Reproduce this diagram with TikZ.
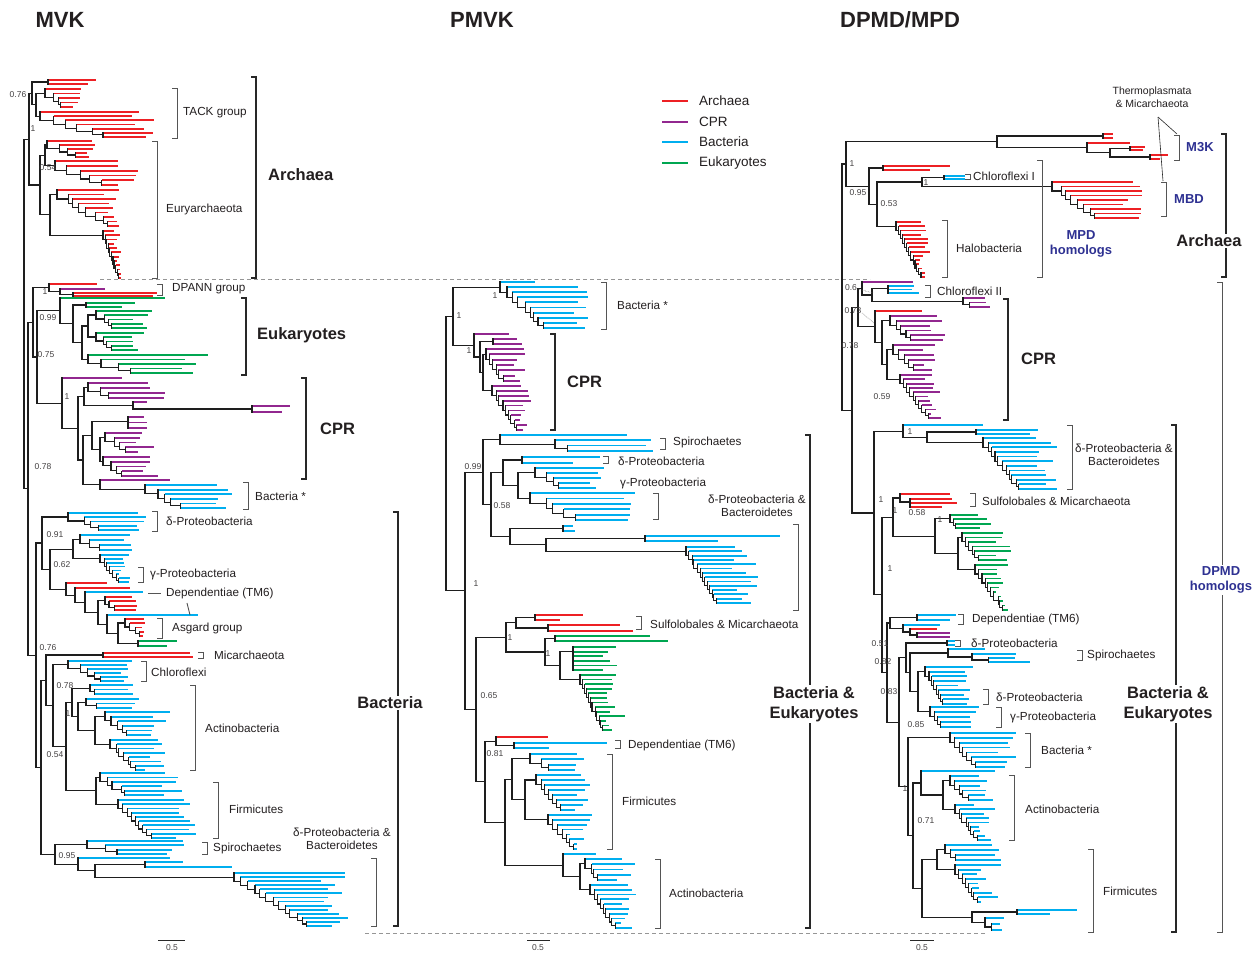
\documentclass[tikz,border=0pt]{standalone}
\usepackage{fontspec}
\setmainfont{Liberation Sans}
\definecolor{ar}{RGB}{237,32,36}
\definecolor{cp}{RGB}{146,39,143}
\definecolor{bl}{RGB}{0,174,239}
\definecolor{gn}{RGB}{0,166,81}
\definecolor{ink}{RGB}{35,31,32}
\definecolor{nv}{RGB}{46,49,146}
\definecolor{brc}{RGB}{30,30,30}
\definecolor{bkc}{RGB}{85,85,85}
\definecolor{bkd}{RGB}{40,40,40}
\definecolor{dsh}{RGB}{150,150,150}
\newcommand\ptset[3]{\expandafter\xdef\csname tx@#1\endcsname{#2}\expandafter\xdef\csname ty@#1\endcsname{#3}}
\newcommand\tX[1]{\csname tx@#1\endcsname}
\newcommand\tY[1]{\csname ty@#1\endcsname}
% comb: name, x, ytop, ybot, n, color, step, tip, jitter
\newcommand\tcomb[9]{%
  \pgfmathsetmacro\cdy{(#4-#3)/(#5-1)}%
  \xdef\catt{#4}\xdef\cprevx{#2}%
  \pgfmathtruncatemacro\cnm{#5-1}%
  \edef\clist{1,...,\cnm}%
  \foreach \ckk in \clist {%
    \pgfmathtruncatemacro\ck{\cnm+1-\ckk}%
    \pgfmathsetmacro\cyk{#3+(\ck-1)*\cdy}%
    \ifnum\ck=1 \edef\cxk{#2}\else\pgfmathsetmacro\cxk{#2+(\ck-1)*#7+0.7*#7*rnd}\fi
    \pgfmathsetmacro\cL{max(3,#8-\cxk+#9*(rnd-0.5))}%
    \draw[lf,#6] (\cxk,\cyk) -- ++(\cL,0);
    \ifnum\ck=\cnm
      \pgfmathsetmacro\cL{max(3,#8-\cxk+#9*(rnd-0.5))}%
      \draw[lf,#6] (\cxk,#4) -- ++(\cL,0);
    \else
      \draw[br] (\cxk,\catt) -- (\cprevx,\catt);
    \fi
    \draw[br] (\cxk,\cyk) -- (\cxk,\catt);
    \pgfmathsetmacro\cna{(\cyk+\catt)/2}%
    \xdef\catt{\cna}\xdef\cprevx{\cxk}%
  }%
  \ptset{#1}{#2}{\catt}%
}
\newcommand\tjoin[4]{%
  \draw[br] (\tX{#3},\tY{#3}) -- (#2,\tY{#3}) -- (#2,\tY{#4}) -- (\tX{#4},\tY{#4});
  \pgfmathsetmacro\cjy{(\tY{#3}+\tY{#4})/2}%
  \ptset{#1}{#2}{\cjy}%
}
\newcommand\tcherry[7]{%
  \draw[lf,#7] (#2,#3) -- (#5,#3);
  \draw[lf,#7] (#2,#4) -- (#6,#4);
  \draw[br] (#2,#3) -- (#2,#4);
  \pgfmathsetmacro\cjy{(#3+#4)/2}\ptset{#1}{#2}{\cjy}%
}
\newcommand\tleaf[5]{\draw[lf,#5] (#2,#4) -- (#3,#4); \ptset{#1}{#2}{#4}}
\newcommand\tbrk[4][bk]{\draw[#1] (#2-5,#3) -- (#2,#3) -- (#2,#4) -- (#2-5,#4);}
\tikzset{
  br/.style={draw=brc, line width=1.1pt, line cap=rect},
  lf/.style={line width=1.8pt},
  bk/.style={draw=bkc, line width=0.9pt},
  bkb/.style={draw=bkd, line width=1.3pt},
  lab/.style={font=\fontsize{11.7}{13.5}\selectfont, text=ink, inner sep=0pt},
  num/.style={font=\fontsize{8.5}{9}\selectfont, text=ink!85, inner sep=0pt},
  big/.style={font=\fontsize{16.5}{20}\selectfont\bfseries, text=ink, inner sep=1pt, align=center},
  nvl/.style={font=\fontsize{13}{15.5}\selectfont\bfseries, text=nv, align=center, inner sep=1pt},
  ttl/.style={font=\fontsize{22}{26}\selectfont\bfseries, text=ink},
  leg/.style={font=\fontsize{13.5}{16}\selectfont, text=ink, inner sep=0pt, anchor=west},
  dsl/.style={draw=dsh, line width=0.9pt, dash pattern=on 4pt off 3pt},
}
\pgfmathsetseed{7}
\begin{document}
\begin{tikzpicture}[x=1pt,y=-1pt]
\fill[white] (0,0) rectangle (1254,954);
\useasboundingbox (0,0) rectangle (1254,954);
% titles
\node[ttl] (T1) at (60,20) {MVK};
\node[ttl] (T2) at (482,20) {PMVK};
\node[ttl] (T3) at (900,20) {DPMD/MPD};
% legend
\draw[lf,ar] (662,101) -- (688,101);
\draw[lf,cp] (662,122) -- (688,122);
\draw[lf,bl] (662,142) -- (688,142);
\draw[lf,gn] (662,163) -- (688,163);
\node[leg] (G1) at (699,101) {Archaea};
\node[leg] (G2) at (699,122) {CPR};
\node[leg] (G3) at (699,142) {Bacteria};
\node[leg] (G4) at (699,163) {Eukaryotes};
% dashed separators
\draw[dsl] (100,279) -- (870,279);
\draw[dsl] (365,933) -- (987,933);
% ================= MVK =================
\tcomb{t1}{48}{80}{84}{2}{ar}{0}{92}{12}
\tcomb{t2}{45}{89}{107}{5}{ar}{5}{78}{14}
\tcomb{t3}{40}{112}{137}{7}{ar}{12}{150}{40}
\tjoin{t23}{36}{t2}{t3}
\tjoin{tack}{32}{t1}{t23}
\tcomb{e1}{47}{141}{157}{5}{ar}{8}{95}{25}
\tcomb{e2}{55}{161}{185}{6}{ar}{10}{125}{30}
\tcomb{e3}{57}{190}{226}{9}{ar}{7}{110}{20}
\tcomb{e4}{103}{231}{278}{12}{ar}{1.5}{118}{8}
\tjoin{e12}{45}{e1}{e2}
\tjoin{e34}{50}{e3}{e4}
\tjoin{eury}{40}{e12}{e34}
\tjoin{arch}{29}{tack}{eury}
\tleaf{dp1}{49}{97}{284}{ar}
\tleaf{dp2}{60}{105}{289}{cp}
\tcherry{dp3}{73}{293}{296}{157}{153}{ar}
\tjoin{dp23}{60}{dp2}{dp3}
\tjoin{dpann}{49}{dp1}{dp23}
\tleaf{k1}{60}{165}{298}{gn}
\tcherry{k2}{86}{303}{307}{135}{122}{gn}
\tcomb{k3a}{96}{311}{328}{5}{gn}{5}{142}{20}
\tcomb{k3b}{96}{333}{350}{5}{gn}{5}{140}{20}
\tjoin{k3}{88}{k3a}{k3b}
\tcomb{k4}{88}{355}{373}{5}{gn}{12}{195}{40}
\tjoin{k34}{82}{k3}{k4}
\tjoin{k234}{73}{k2}{k34}
\tjoin{euk}{60}{k1}{k234}
\tleaf{c1}{62}{122}{378}{cp}
\tcomb{c2}{88}{383}{398}{4}{cp}{10}{160}{25}
\tleaf{c3a}{133}{147}{402}{cp}
\tcherry{c3b}{252}{406}{412}{290}{282}{cp}
\tjoin{c3}{133}{c3a}{c3b}
\tjoin{c23}{84}{c2}{c3}
\tcomb{c4}{128}{417}{428}{3}{cp}{0}{148}{8}
\tcomb{c5a}{105}{433}{452}{5}{cp}{6}{145}{20}
\tcomb{c5b}{103}{457}{476}{5}{cp}{6}{150}{20}
\tjoin{c5}{100}{c5a}{c5b}
\tjoin{c45}{92}{c4}{c5}
\tleaf{bs1}{100}{170}{480}{cp}
\tcomb{bs2}{145}{485}{508}{6}{bl}{8}{225}{20}
\tjoin{bst}{100}{bs1}{bs2}
\tjoin{cl}{83}{c45}{bst}
\tjoin{c2345}{78}{c23}{cl}
\tjoin{cpr}{62}{c1}{c2345}
\tjoin{ekc}{37}{euk}{cpr}
\tjoin{up}{33}{dpann}{ekc}
\tcomb{p1}{68}{513}{530}{5}{bl}{10}{140}{15}
\tcomb{p2a}{80}{535}{550}{4}{bl}{8}{130}{15}
\tcomb{p2b}{100}{555}{582}{8}{bl}{3}{126}{14}
\tjoin{p2}{73}{p2a}{p2b}
\tleaf{g1}{66}{107}{583}{ar}
\tleaf{g2}{75}{130}{588}{ar}
\tleaf{g3}{85}{143}{592}{bl}
\tcomb{g4}{105}{597}{610}{4}{ar}{4}{135}{8}
\tleaf{g5}{107}{198}{615}{bl}
\tcomb{g6}{125}{619}{636}{5}{ar}{4}{145}{8}
\tcherry{g7}{138}{641}{646}{177}{167}{gn}
\tjoin{g67}{118}{g6}{g7}
\tjoin{g567}{107}{g5}{g67}
\tjoin{g4567}{98}{g4}{g567}
\tjoin{g3x}{85}{g3}{g4567}
\tjoin{g2x}{75}{g2}{g3x}
\tjoin{g1x}{66}{g1}{g2x}
\tjoin{q1}{50}{p2}{g1x}
\tjoin{q2}{42}{p1}{q1}
\tcherry{mi}{103}{653}{657}{190}{193}{ar}
\tcomb{ch}{68}{661}{681}{6}{bl}{8}{125}{15}
\tcomb{a1}{90}{685}{694}{3}{bl}{4}{130}{10}
\tcomb{a2}{86}{699}{708}{3}{bl}{8}{135}{10}
\tcomb{a3a}{105}{712}{735}{6}{bl}{5}{160}{20}
\tcomb{a3b}{110}{740}{770}{8}{bl}{4}{155}{20}
\tjoin{a3}{95}{a3a}{a3b}
\tjoin{a23}{78}{a2}{a3}
\tjoin{act}{72}{a1}{a23}
\tcomb{fa}{100}{773}{795}{6}{bl}{6}{170}{25}
\tcomb{fb}{118}{800}{838}{10}{bl}{4}{185}{25}
\tjoin{fi}{96}{fa}{fb}
\tjoin{af}{66}{act}{fi}
\tjoin{caf}{53}{ch}{af}
\tjoin{mcaf}{46}{mi}{caf}
\tcomb{sp}{87}{841}{854}{4}{bl}{12}{175}{20}
\tleaf{s1}{78}{170}{858}{bl}
\tcherry{s2}{145}{862}{867}{183}{232}{bl}
\tcomb{s3}{234}{873}{926}{14}{bl}{6}{335}{30}
\tjoin{s23}{95}{s2}{s3}
\tjoin{s123}{78}{s1}{s23}
\tjoin{spd}{55}{sp}{s123}
\tjoin{b2}{41}{mcaf}{spd}
\tjoin{bac}{36}{q2}{b2}
\tjoin{r1}{28}{up}{bac}
\tjoin{root}{24}{arch}{r1}
% MVK brackets
\tbrk[bkb]{256}{77}{278}
\tbrk{177}{88}{138}
\tbrk{157}{141}{278}
\tbrk{162}{284}{295}
\tbrk[bkb]{246}{298}{375}
\tbrk[bkb]{306}{378}{479}
\tbrk{248}{482}{509}
\tbrk{157}{511}{531}
\tbrk{143}{567}{582}
\tbrk{162}{618}{638}
\tbrk{203}{652}{658}
\tbrk{146}{661}{681}
\tbrk{195}{685}{770}
\tbrk{218}{782}{838}
\tbrk{207}{842}{854}
\tbrk{376}{858}{926}
\tbrk[bkb]{398}{512}{926}
\draw[bk] (148,593) -- (161,593);
\draw[bk] (187,603) -- (190,615);
% MVK labels
\node[num] (n1) at (18,95) {0.76};
\node[num] (n2) at (33,129) {1};
\node[num] (n3) at (48,168) {0.54};
\node[num] (n4) at (45,292) {1};
\node[num] (n5) at (48,318) {0.99};
\node[num] (n6) at (46,355) {0.75};
\node[num] (n7) at (67,397) {1};
\node[num] (n8) at (43,467) {0.78};
\node[num] (n9) at (55,535) {0.91};
\node[num] (n10) at (62,565) {0.62};
\node[num] (n11) at (48,648) {0.76};
\node[num] (n12) at (65,686) {0.78};
\node[num] (n13) at (68,714) {1};
\node[num] (n14) at (55,755) {0.54};
\node[num] (n15) at (67,856) {0.95};
\node[lab,anchor=west] (m1) at (183,113) {TACK group};
\node[lab,anchor=west] (m2) at (166,209) {Euryarchaeota};
\node[big,anchor=west] (m3) at (267,175) {Archaea};
\node[lab,anchor=west] (m4) at (172,289) {DPANN group};
\node[big,anchor=west] (m5) at (256,335) {Eukaryotes};
\node[big,anchor=west] (m6) at (319,429) {CPR};
\node[lab,anchor=west] (m7) at (255,496) {Bacteria *};
\node[lab,anchor=west] (m8) at (166,521) {δ-Proteobacteria};
\node[lab,anchor=west] (m9) at (150,574) {γ-Proteobacteria};
\node[lab,anchor=west] (m10) at (166,593) {Dependentiae (TM6)};
\node[lab,anchor=west] (m11) at (172,628) {Asgard group};
\node[lab,anchor=west] (m12) at (214,655) {Micarchaeota};
\node[lab,anchor=west] (m13) at (151,672) {Chloroflexi};
\node[lab,anchor=west] (m14) at (205,728) {Actinobacteria};
\node[lab,anchor=west] (m15) at (229,809) {Firmicutes};
\node[lab,anchor=west] (m16) at (213,848) {Spirochaetes};
\node[lab,align=center] (m17) at (342,839) {δ-Proteobacteria \&\\Bacteroidetes};
\node[big,fill=white] (m18) at (390,703) {Bacteria};
\draw[bkd,line width=0.9pt] (158,940) -- (185,940);
\node[num] (sb1) at (172,948) {0.5};
% ================= PMVK =================
\tleaf{pb1}{500}{535}{282}{bl}
\tcomb{pb2}{507}{287}{328}{9}{bl}{5}{580}{20}
\tjoin{pbs}{500}{pb1}{pb2}
\tleaf{pc1}{474}{509}{334}{cp}
\tcherry{pc2a}{493}{339}{344}{517}{522}{cp}
\tcomb{pc2b}{486}{349}{381}{7}{cp}{3}{520}{14}
\tcomb{pc2c}{492}{386}{430}{10}{cp}{3}{525}{14}
\tjoin{pcb}{483}{pc2b}{pc2c}
\tjoin{pc2}{480}{pc2a}{pcb}
\tjoin{pcpr}{474}{pc1}{pc2}
\tjoin{pbc}{453}{pbs}{pcpr}
\tleaf{ps1}{500}{627}{435}{bl}
\tcomb{ps2}{555}{440}{451}{3}{bl}{8}{650}{14}
\tjoin{psp}{500}{ps1}{ps2}
\tcherry{pd}{522}{457}{463}{600}{573}{bl}
\tcomb{pg}{535}{468}{488}{5}{bl}{7}{600}{20}
\tcomb{pdb}{530}{493}{520}{6}{bl}{10}{625}{25}
\tjoin{pgd}{518}{pg}{pdb}
\tjoin{pdgd}{503}{pd}{pgd}
\tcherry{pl1}{563}{526}{531}{573}{575}{bl}
\tcherry{pl2}{645}{536}{541}{780}{718}{bl}
\tcomb{pl3}{686}{547}{603}{14}{bl}{2.5}{750}{40}
\tjoin{pl23}{546}{pl2}{pl3}
\tjoin{pl}{510}{pl1}{pl23}
\tjoin{pdgl}{491}{pdgd}{pl}
\tjoin{ptop}{483}{psp}{pdgl}
\tcherry{pu1}{535}{615}{620}{583}{560}{ar}
\tcherry{pu2}{548}{625}{631}{620}{633}{ar}
\tjoin{psu}{516}{pu1}{pu2}
\tcherry{pe1}{555}{636}{641}{650}{668}{gn}
\tcomb{pe2a}{573}{647}{670}{6}{gn}{0}{610}{20}
\tcomb{pe2b}{580}{675}{730}{13}{gn}{2}{615}{22}
\tjoin{pe2}{560}{pe2a}{pe2b}
\tjoin{pe}{545}{pe1}{pe2}
\tjoin{peu}{506}{psu}{pe}
\tleaf{pt1}{496}{548}{737}{ar}
\tcherry{pt2}{514}{743}{748}{607}{549}{bl}
\tjoin{pdep}{496}{pt1}{pt2}
\tcomb{pf1}{530}{754}{770}{4}{bl}{8}{585}{25}
\tcomb{pf2}{536}{775}{810}{8}{bl}{4}{585}{25}
\tcomb{pf3}{548}{815}{849}{8}{bl}{4}{580}{25}
\tjoin{pf23}{525}{pf2}{pf3}
\tjoin{pf}{512}{pf1}{pf23}
\tleaf{pa1}{563}{596}{854}{bl}
\tcomb{pa2a}{585}{859}{880}{5}{bl}{4}{625}{25}
\tcomb{pa2b}{590}{885}{928}{10}{bl}{3}{630}{25}
\tjoin{pa2}{580}{pa2a}{pa2b}
\tjoin{pact}{563}{pa1}{pa2}
\tjoin{pfa}{505}{pf}{pact}
\tjoin{pdfa}{485}{pdep}{pfa}
\tjoin{pedfa}{476}{peu}{pdfa}
\tjoin{pbe}{465}{ptop}{pedfa}
\tjoin{proot}{446}{pbc}{pbe}
% PMVK brackets
\tbrk{606}{282}{329}
\tbrk[bkb]{555}{334}{430}
\tbrk{665}{438}{449}
\tbrk{608}{456}{463}
\tbrk{658}{493}{519}
\tbrk{798}{524}{610}
\tbrk{641}{616}{629}
\tbrk{620}{740}{748}
\tbrk{612}{754}{849}
\tbrk{660}{859}{928}
\tbrk[bkb]{810}{435}{928}
% PMVK labels
\node[num] (n16) at (495,296) {1};
\node[num] (n17) at (459,316) {1};
\node[num] (n18) at (469,351) {1};
\node[num] (n19) at (473,467) {0.99};
\node[num] (n20) at (502,506) {0.58};
\node[num] (n21) at (476,584) {1};
\node[num] (n22) at (510,638) {1};
\node[num] (n23) at (548,654) {1};
\node[num] (n24) at (489,696) {0.65};
\node[num] (n25) at (495,754) {0.81};
\node[lab,anchor=west] (p1l) at (617,305) {Bacteria *};
\node[big,anchor=west] (p2l) at (566,382) {CPR};
\node[lab,anchor=west] (p3l) at (673,442) {Spirochaetes};
\node[lab,anchor=west] (p4l) at (618,461) {δ-Proteobacteria};
\node[lab,anchor=west] (p5l) at (620,483) {γ-Proteobacteria};
\node[lab,align=center] (p6l) at (757,506) {δ-Proteobacteria \&\\Bacteroidetes};
\node[lab,anchor=west] (p7l) at (650,624) {Sulfolobales \& Micarchaeota};
\node[lab,anchor=west] (p8l) at (628,745) {Dependentiae (TM6)};
\node[lab,anchor=west] (p9l) at (622,801) {Firmicutes};
\node[lab,anchor=west] (p10l) at (669,893) {Actinobacteria};
\node[big,fill=white] (p11l) at (814,704) {Bacteria \&\\Eukaryotes};
\draw[bkd,line width=0.9pt] (527,940) -- (550,940);
\node[num] (sb2) at (538,948) {0.5};
% ================= DPMD/MPD =================
\tcherry{dm1}{1103}{134}{138}{1113}{1113}{ar}
\tleaf{dm2}{1087}{1130}{143}{ar}
\tcherry{dm3}{1130}{147}{150}{1145}{1143}{ar}
\tcherry{dm4}{1150}{155}{159}{1168}{1160}{ar}
\tjoin{dm34}{1110}{dm3}{dm4}
\tjoin{dm234}{1087}{dm2}{dm34}
\tjoin{m3k}{997}{dm1}{dm234}
\tcherry{mr}{883}{166}{170}{950}{930}{ar}
\tcherry{mc}{944}{176}{179}{965}{965}{bl}
\tcomb{mb}{1052}{182}{218}{9}{ar}{6}{1130}{30}
\tjoin{mcb}{922}{mc}{mb}
\tcomb{mh}{896}{222}{277}{14}{ar}{2}{925}{12}
\tjoin{mhc}{877}{mcb}{mh}
\tjoin{mpd}{869}{mr}{mhc}
\tjoin{darch}{846}{m3k}{mpd}
\tleaf{q0}{862}{913}{282}{cp}
\tcomb{qc2}{888}{286}{293}{3}{bl}{0}{915}{10}
\tcomb{qp}{963}{298}{307}{3}{cp}{5}{988}{8}
\tjoin{qcp}{872}{qc2}{qp}
\tjoin{q06}{862}{q0}{qcp}
\tleaf{qr}{875}{922}{311}{ar}
\tcomb{qa}{890}{316}{340}{6}{cp}{5}{935}{25}
\tcomb{qb}{893}{345}{370}{6}{cp}{5}{935}{25}
\tcomb{qc}{900}{375}{418}{11}{cp}{3}{935}{22}
\tjoin{qbc}{887}{qb}{qc}
\tjoin{qcpr}{882}{qa}{qbc}
\tjoin{qcp2}{875}{qr}{qcpr}
\tjoin{q073}{858}{q06}{qcp2}
\tleaf{rr1}{903}{983}{425}{bl}
\tcherry{rr2}{976}{430}{434}{1038}{1030}{bl}
\tcomb{rr3}{983}{438}{489}{12}{bl}{3.5}{1045}{25}
\tjoin{rr23}{927}{rr2}{rr3}
\tjoin{rdb}{903}{rr1}{rr23}
\tleaf{u1}{900}{950}{494}{ar}
\tcomb{u2}{910}{499}{507}{3}{ar}{0}{950}{20}
\tjoin{usu}{900}{u1}{u2}
\tcomb{v1}{950}{515}{528}{4}{gn}{2}{985}{20}
\tcomb{va}{962}{533}{560}{7}{gn}{3}{1000}{22}
\tcomb{vb}{975}{565}{610}{11}{gn}{3}{1000}{22}
\tjoin{v2}{958}{va}{vb}
\tjoin{vg}{935}{v1}{v2}
\tjoin{uv}{893}{usu}{vg}
\tcherry{w1}{917}{615}{620}{956}{950}{bl}
\tleaf{w2}{903}{940}{625}{bl}
\tleaf{w3}{910}{937}{629}{ar}
\tcherry{w4}{917}{633}{637}{950}{950}{cp}
\tjoin{w34}{910}{w3}{w4}
\tjoin{w234}{903}{w2}{w34}
\tjoin{wdep}{890}{w1}{w234}
\tcherry{x1}{947}{641}{645}{955}{955}{bl}
\tleaf{x2}{948}{985}{649}{bl}
\tcomb{x3}{972}{654}{662}{3}{bl}{12}{1030}{40}
\tjoin{xsp}{948}{x2}{x3}
\tcomb{x4}{925}{667}{704}{9}{bl}{2.5}{965}{16}
\tcomb{x5}{930}{707}{727}{5}{bl}{3}{975}{20}
\tjoin{x45}{918}{x4}{x5}
\tjoin{x345}{910}{xsp}{x45}
\tjoin{xd}{906}{x1}{x345}
\tcomb{y1}{950}{733}{767}{8}{bl}{4}{1005}{25}
\tleaf{y2}{921}{995}{771}{bl}
\tcomb{ya}{950}{776}{800}{6}{bl}{4}{990}{22}
\tcomb{yb}{955}{805}{840}{9}{bl}{3}{985}{22}
\tjoin{y3}{943}{ya}{yb}
\tjoin{yact}{921}{y2}{y3}
\tcomb{za}{945}{845}{860}{4}{bl}{4}{990}{30}
\tcomb{zb}{955}{865}{902}{9}{bl}{3}{990}{30}
\tjoin{z1}{937}{za}{zb}
\tcherry{z2}{1017}{910}{914}{1077}{1050}{bl}
\tcomb{z3}{985}{918}{930}{3}{bl}{4}{1005}{10}
\tjoin{z23}{972}{z2}{z3}
\tjoin{zf}{922}{z1}{z23}
\tjoin{yaf}{913}{yact}{zf}
\tjoin{ybaf}{908}{y1}{yaf}
\tjoin{dmid}{899}{xd}{ybaf}
\tjoin{dmid2}{887}{wdep}{dmid}
\tjoin{dsm}{882}{uv}{dmid2}
\tjoin{ddb}{874}{rdb}{dsm}
\tjoin{dbac}{852}{q073}{ddb}
\tjoin{droot}{842}{darch}{dbac}
% DPMD brackets
\tbrk{1179}{135}{160}
\tbrk{1166}{182}{216}
\tbrk{1042}{160}{277}
\tbrk{970}{174}{179}
\tbrk{947}{220}{277}
\tbrk[bkb]{1226}{134}{277}
\tbrk{930}{285}{297}
\tbrk[bkb]{1008}{299}{420}
\tbrk{1072}{425}{489}
\tbrk{975}{493}{506}
\tbrk{963}{614}{624}
\tbrk{960}{640}{646}
\tbrk{1082}{650}{660}
\tbrk{988}{689}{704}
\tbrk{1001}{707}{727}
\tbrk{1030}{733}{767}
\tbrk{1014}{775}{840}
\tbrk{1093}{849}{932}
\tbrk[bkb]{1176}{425}{932}
\tbrk{1222}{282}{932}
\draw[bkd,line width=0.6pt] (1158,117) -- (1177,134);
\draw[bkd,line width=0.6pt] (1158,117) -- (1163,181);
\draw[bkc,line width=0.5pt,densely dotted] (858,289) -- (873,293);
\draw[bkc,line width=0.5pt,densely dotted] (862,313) -- (874,323);
% DPMD labels
\node[lab,align=center,font=\fontsize{10.5}{13.5}\selectfont] (d1) at (1152,97) {Thermoplasmata\\\& Micarchaeota};
\node[nvl,anchor=west] (d2) at (1185,147) {M3K};
\node[nvl,anchor=west] (d3) at (1173,199) {MBD};
\node[lab,anchor=west] (d4) at (973,176) {Chloroflexi I};
\node[lab,anchor=west] (d5) at (956,248) {Halobacteria};
\node[nvl] (d6) at (1081,244) {MPD\\homologs};
\node[big,fill=white] (d7) at (1209,241) {Archaea};
\node[lab,anchor=west] (d8) at (937,291) {Chloroflexi II};
\node[big,anchor=west] (d9) at (1020,359) {CPR};
\node[lab,align=center] (d10) at (1124,455) {δ-Proteobacteria \&\\Bacteroidetes};
\node[lab,anchor=west] (d11) at (982,501) {Sulfolobales \& Micarchaeota};
\node[nvl,fill=white] (d12) at (1221,580) {DPMD\\homologs};
\node[lab,anchor=west] (d13) at (972,619) {Dependentiae (TM6)};
\node[lab,anchor=west] (d14) at (971,643) {δ-Proteobacteria};
\node[lab,anchor=west] (d15) at (1087,655) {Spirochaetes};
\node[lab,anchor=west] (d16) at (996,697) {δ-Proteobacteria};
\node[big,fill=white] (d17) at (1168,704) {Bacteria \&\\Eukaryotes};
\node[lab,anchor=west] (d18) at (1010,717) {γ-Proteobacteria};
\node[lab,anchor=west] (d19) at (1041,750) {Bacteria *};
\node[lab,anchor=west] (d20) at (1025,809) {Actinobacteria};
\node[lab,anchor=west] (d21) at (1103,891) {Firmicutes};
\node[num] (n26) at (852,164) {1};
\node[num] (n27) at (858,193) {0.95};
\node[num] (n28) at (889,204) {0.53};
\node[num] (n29) at (926,183) {1};
\node[num] (n30) at (851,288) {0.6};
\node[num] (n31) at (853,311) {0.73};
\node[num] (n32) at (850,346) {0.78};
\node[num] (n33) at (882,397) {0.59};
\node[num] (n34) at (910,432) {1};
\node[num] (n35) at (881,500) {1};
\node[num] (n36) at (895,511) {1};
\node[num] (n37) at (917,513) {0.58};
\node[num] (n38) at (940,520) {1};
\node[num] (n39) at (890,569) {1};
\node[num] (n40) at (880,644) {0.51};
\node[num] (n41) at (883,662) {0.82};
\node[num] (n42) at (889,692) {0.83};
\node[num] (n43) at (916,725) {0.85};
\node[num] (n44) at (905,789) {1};
\node[num] (n45) at (926,821) {0.71};
\draw[bkd,line width=0.9pt] (910,940) -- (934,940);
\node[num] (sb3) at (922,948) {0.5};
\end{tikzpicture}
\end{document}
